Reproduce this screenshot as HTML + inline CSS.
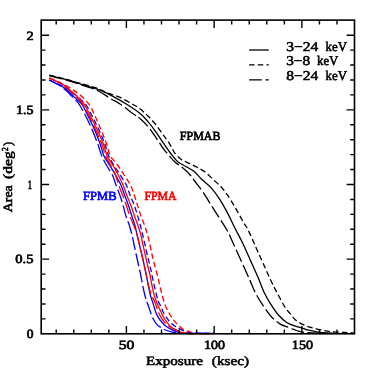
<!DOCTYPE html>
<html><head><meta charset="utf-8"><title>Area vs Exposure</title>
<style>html,body{margin:0;padding:0;background:#fff;}body{width:374px;height:374px;overflow:hidden;font-family:"Liberation Serif",serif;}svg{display:block;will-change:transform;}</style></head>
<body>
<svg width="374" height="374" viewBox="0 0 374 374">
<rect width="374" height="374" fill="#fff"/>
<g fill="none" stroke-width="1.30" stroke-linejoin="round">
<path d="M49.30 75.40 C52.15 76.12 61.77 78.45 66.40 79.70 C71.03 80.95 74.07 81.97 77.10 82.90 C80.13 83.83 82.33 84.60 84.60 85.30 C86.87 86.00 88.80 86.53 90.70 87.10 C92.60 87.67 94.22 88.10 96.00 88.70 C97.78 89.30 98.50 89.38 101.40 90.70 C104.30 92.02 109.18 94.33 113.40 96.60 C117.62 98.87 122.25 101.48 126.70 104.30 C131.15 107.12 136.55 110.60 140.10 113.50 C143.65 116.40 145.35 118.60 148.00 121.70 C150.65 124.80 153.32 128.37 156.00 132.10 C158.68 135.83 161.53 140.38 164.10 144.10 C166.67 147.82 169.12 151.47 171.40 154.40 C173.68 157.33 175.38 159.68 177.80 161.70 C180.22 163.72 183.22 164.90 185.90 166.50 C188.58 168.10 191.23 169.13 193.90 171.30 C196.57 173.47 199.05 176.78 201.90 179.50 C204.75 182.22 208.13 184.45 211.00 187.60 C213.87 190.75 216.42 194.32 219.10 198.40 C221.78 202.48 224.43 207.08 227.10 212.10 C229.77 217.12 232.53 223.38 235.10 228.50 C237.67 233.62 239.93 237.47 242.50 242.80 C245.07 248.13 247.83 254.55 250.50 260.50 C253.17 266.45 256.20 273.12 258.50 278.50 C260.80 283.88 262.27 288.53 264.30 292.80 C266.33 297.07 268.30 300.35 270.70 304.10 C273.10 307.85 276.03 312.23 278.70 315.30 C281.37 318.37 284.03 320.73 286.70 322.50 C289.37 324.27 292.02 324.93 294.70 325.90 C297.38 326.87 300.47 327.58 302.80 328.30 C305.13 329.02 306.15 329.57 308.70 330.20 C311.25 330.83 314.98 331.63 318.10 332.10 C321.22 332.57 323.75 332.77 327.40 333.00 C331.05 333.23 337.90 333.42 340.00 333.50" stroke="#000"/>
<path d="M49.30 75.10 C52.15 75.82 61.77 78.17 66.40 79.40 C71.03 80.63 72.17 81.08 77.10 82.50 C82.03 83.92 91.07 86.20 96.00 87.90 C100.93 89.60 102.70 91.12 106.70 92.70 C110.70 94.28 115.55 95.40 120.00 97.40 C124.45 99.40 130.07 102.80 133.40 104.70 C136.73 106.60 137.57 106.92 140.00 108.80 C142.43 110.68 145.33 113.32 148.00 116.00 C150.67 118.68 153.32 121.55 156.00 124.90 C158.68 128.25 162.07 133.32 164.10 136.10 C166.13 138.88 166.87 139.60 168.20 141.60 C169.53 143.60 171.03 146.23 172.10 148.10 C173.17 149.97 173.12 150.93 174.60 152.80 C176.08 154.67 178.58 157.55 181.00 159.30 C183.42 161.05 186.42 161.97 189.10 163.30 C191.78 164.63 194.43 165.83 197.10 167.30 C199.77 168.77 202.40 170.05 205.10 172.10 C207.80 174.15 210.67 177.15 213.30 179.60 C215.93 182.05 218.60 184.33 220.90 186.80 C223.20 189.27 224.73 190.98 227.10 194.40 C229.47 197.82 232.43 202.75 235.10 207.30 C237.77 211.85 240.93 217.92 243.10 221.70 C245.27 225.48 246.07 225.95 248.10 230.00 C250.13 234.05 252.77 240.38 255.30 246.00 C257.83 251.62 260.70 257.95 263.30 263.70 C265.90 269.45 268.60 275.65 270.90 280.50 C273.20 285.35 274.73 288.33 277.10 292.80 C279.47 297.27 282.95 303.87 285.10 307.30 C287.25 310.73 288.25 311.28 290.00 313.40 C291.75 315.52 293.42 318.13 295.60 320.00 C297.78 321.87 300.60 323.37 303.10 324.60 C305.60 325.83 308.10 326.62 310.60 327.40 C313.10 328.18 315.30 328.67 318.10 329.30 C320.90 329.93 324.28 330.73 327.40 331.20 C330.52 331.67 332.43 331.82 336.80 332.10 C341.17 332.38 350.80 332.77 353.60 332.90" stroke="#000" stroke-dasharray="5.7 3.1"/>
<path d="M49.30 75.70 C52.15 76.43 61.77 78.80 66.40 80.10 C71.03 81.40 72.17 81.88 77.10 83.50 C82.03 85.12 90.40 87.27 96.00 89.80 C101.60 92.33 106.70 96.33 110.70 98.70 C114.70 101.07 116.22 101.45 120.00 104.00 C123.78 106.55 130.07 111.60 133.40 114.00 C136.73 116.40 137.57 116.32 140.00 118.40 C142.43 120.48 145.33 123.28 148.00 126.50 C150.67 129.72 153.32 133.83 156.00 137.70 C158.68 141.57 162.07 146.92 164.10 149.70 C166.13 152.48 166.45 152.40 168.20 154.40 C169.95 156.40 172.47 159.68 174.60 161.70 C176.73 163.72 178.58 164.50 181.00 166.50 C183.42 168.50 186.77 171.20 189.10 173.70 C191.43 176.20 192.68 178.45 195.00 181.50 C197.32 184.55 200.33 188.10 203.00 192.00 C205.67 195.90 208.32 200.62 211.00 204.90 C213.68 209.18 216.40 213.43 219.10 217.70 C221.80 221.97 224.65 225.78 227.20 230.50 C229.75 235.22 231.85 240.47 234.40 246.00 C236.95 251.53 239.93 258.03 242.50 263.70 C245.07 269.37 247.52 274.88 249.80 280.00 C252.08 285.12 253.78 289.85 256.20 294.40 C258.62 298.95 261.62 303.42 264.30 307.30 C266.98 311.18 269.63 314.90 272.30 317.70 C274.97 320.50 277.63 322.50 280.30 324.10 C282.97 325.70 285.63 326.23 288.30 327.30 C290.97 328.37 293.88 329.70 296.30 330.50 C298.72 331.30 300.73 331.73 302.80 332.10 C304.87 332.47 305.83 332.48 308.70 332.70 C311.57 332.92 318.12 333.28 320.00 333.40" stroke="#000" stroke-dasharray="13 3.6"/>
<path d="M49.30 80.00 C51.08 80.88 57.15 83.72 60.00 85.30 C62.85 86.88 64.45 88.00 66.40 89.50 C68.35 91.00 70.27 92.92 71.70 94.30 C73.13 95.68 73.95 96.77 75.00 97.80 C76.05 98.83 76.77 99.30 78.00 100.50 C79.23 101.70 80.80 102.58 82.40 105.00 C84.00 107.42 85.93 111.67 87.60 115.00 C89.27 118.33 90.87 121.67 92.40 125.00 C93.93 128.33 95.45 131.67 96.80 135.00 C98.15 138.33 99.32 141.55 100.50 145.00 C101.68 148.45 102.40 152.37 103.90 155.70 C105.40 159.03 107.55 161.78 109.50 165.00 C111.45 168.22 113.70 171.67 115.60 175.00 C117.50 178.33 119.40 181.67 120.90 185.00 C122.40 188.33 123.37 191.67 124.60 195.00 C125.83 198.33 127.15 201.67 128.30 205.00 C129.45 208.33 130.42 211.67 131.50 215.00 C132.58 218.33 133.87 221.67 134.80 225.00 C135.73 228.33 136.32 231.67 137.10 235.00 C137.88 238.33 138.70 241.67 139.50 245.00 C140.30 248.33 141.12 251.67 141.90 255.00 C142.68 258.33 143.47 261.67 144.20 265.00 C144.93 268.33 145.63 271.67 146.30 275.00 C146.97 278.33 147.53 281.67 148.20 285.00 C148.87 288.33 149.62 292.33 150.30 295.00 C150.98 297.67 151.70 299.10 152.30 301.00 C152.90 302.90 153.28 304.43 153.90 306.40 C154.52 308.37 155.20 310.83 156.00 312.80 C156.80 314.77 157.62 316.50 158.70 318.20 C159.78 319.90 161.17 321.58 162.50 323.00 C163.83 324.42 165.10 325.55 166.70 326.70 C168.30 327.85 170.32 329.00 172.10 329.90 C173.88 330.80 175.42 331.57 177.40 332.10 C179.38 332.63 181.23 332.90 184.00 333.10 C186.77 333.30 189.00 333.25 194.00 333.30 C199.00 333.35 210.67 333.38 214.00 333.40" stroke="#0000ff"/>
<path d="M49.30 80.00 C51.30 80.88 58.17 83.72 61.30 85.30 C64.43 86.88 65.92 88.03 68.10 89.50 C70.28 90.97 72.72 92.85 74.40 94.10 C76.08 95.35 76.97 95.93 78.20 97.00 C79.43 98.07 80.47 99.17 81.80 100.50 C83.13 101.83 84.57 102.58 86.20 105.00 C87.83 107.42 89.87 111.67 91.60 115.00 C93.33 118.33 95.00 121.67 96.60 125.00 C98.20 128.33 99.77 131.67 101.20 135.00 C102.63 138.33 103.97 141.55 105.20 145.00 C106.43 148.45 107.18 152.37 108.60 155.70 C110.02 159.03 111.77 161.78 113.70 165.00 C115.63 168.22 118.10 171.67 120.20 175.00 C122.30 178.33 124.67 181.67 126.30 185.00 C127.93 188.33 128.68 191.67 130.00 195.00 C131.32 198.33 132.97 201.67 134.20 205.00 C135.43 208.33 136.38 211.67 137.40 215.00 C138.42 218.33 139.42 221.67 140.30 225.00 C141.18 228.33 141.90 231.67 142.70 235.00 C143.50 238.33 144.33 241.67 145.10 245.00 C145.87 248.33 146.52 251.67 147.30 255.00 C148.08 258.33 149.03 261.67 149.80 265.00 C150.57 268.33 151.18 271.67 151.90 275.00 C152.62 278.33 153.33 281.67 154.10 285.00 C154.87 288.33 155.77 292.17 156.50 295.00 C157.23 297.83 157.77 300.10 158.50 302.00 C159.23 303.90 160.15 304.77 160.90 306.40 C161.65 308.03 162.12 310.02 163.00 311.80 C163.88 313.58 165.05 315.42 166.20 317.10 C167.35 318.78 168.57 320.47 169.90 321.90 C171.23 323.33 172.77 324.63 174.20 325.70 C175.63 326.77 176.82 327.38 178.50 328.30 C180.18 329.22 182.63 330.53 184.30 331.20 C185.97 331.87 186.72 331.97 188.50 332.30 C190.28 332.63 190.75 333.02 195.00 333.20 C199.25 333.38 210.83 333.37 214.00 333.40" stroke="#0000ff" stroke-dasharray="5.7 3.1"/>
<path d="M49.30 80.20 C51.08 81.13 57.15 84.03 60.00 85.80 C62.85 87.57 64.45 89.10 66.40 90.80 C68.35 92.50 70.15 94.47 71.70 96.00 C73.25 97.53 74.38 98.50 75.70 100.00 C77.02 101.50 78.02 102.50 79.60 105.00 C81.18 107.50 83.47 111.67 85.20 115.00 C86.93 118.33 88.48 121.67 90.00 125.00 C91.52 128.33 92.95 131.67 94.30 135.00 C95.65 138.33 96.87 141.55 98.10 145.00 C99.33 148.45 100.33 152.37 101.70 155.70 C103.07 159.03 104.52 161.78 106.30 165.00 C108.08 168.22 110.78 171.67 112.40 175.00 C114.02 178.33 114.77 181.67 116.00 185.00 C117.23 188.33 118.63 191.67 119.80 195.00 C120.97 198.33 122.03 201.67 123.00 205.00 C123.97 208.33 124.57 211.67 125.60 215.00 C126.63 218.33 128.13 221.67 129.20 225.00 C130.27 228.33 131.18 231.67 132.00 235.00 C132.82 238.33 133.38 241.67 134.10 245.00 C134.82 248.33 135.57 251.67 136.30 255.00 C137.03 258.33 137.77 261.67 138.50 265.00 C139.23 268.33 140.02 271.67 140.70 275.00 C141.38 278.33 141.92 281.67 142.60 285.00 C143.28 288.33 144.10 292.17 144.80 295.00 C145.50 297.83 146.17 300.10 146.80 302.00 C147.43 303.90 147.95 304.60 148.60 306.40 C149.25 308.20 149.90 310.65 150.70 312.80 C151.50 314.95 152.33 317.33 153.40 319.30 C154.47 321.27 155.77 323.18 157.10 324.60 C158.43 326.02 159.80 326.82 161.40 327.80 C163.00 328.78 164.92 329.78 166.70 330.50 C168.48 331.22 170.32 331.70 172.10 332.10 C173.88 332.50 175.25 332.70 177.40 332.90 C179.55 333.10 178.90 333.22 185.00 333.30 C191.10 333.38 209.17 333.38 214.00 333.40" stroke="#0000ff" stroke-dasharray="13 3.6"/>
<path d="M49.30 78.00 C51.25 78.88 58.15 81.82 61.00 83.30 C63.85 84.78 64.62 85.53 66.40 86.90 C68.18 88.27 69.92 89.90 71.70 91.50 C73.48 93.10 75.55 95.00 77.10 96.50 C78.65 98.00 79.75 99.08 81.00 100.50 C82.25 101.92 83.10 102.58 84.60 105.00 C86.10 107.42 88.27 111.67 90.00 115.00 C91.73 118.33 93.40 121.67 95.00 125.00 C96.60 128.33 98.15 131.67 99.60 135.00 C101.05 138.33 102.45 141.55 103.70 145.00 C104.95 148.45 105.60 152.37 107.10 155.70 C108.60 159.03 110.83 161.78 112.70 165.00 C114.57 168.22 116.58 171.67 118.30 175.00 C120.02 178.33 121.60 181.67 123.00 185.00 C124.40 188.33 125.42 191.67 126.70 195.00 C127.98 198.33 129.45 201.67 130.70 205.00 C131.95 208.33 133.02 211.67 134.20 215.00 C135.38 218.33 136.68 221.67 137.80 225.00 C138.92 228.33 140.03 231.67 140.90 235.00 C141.77 238.33 142.27 241.67 143.00 245.00 C143.73 248.33 144.55 251.67 145.30 255.00 C146.05 258.33 146.72 261.67 147.50 265.00 C148.28 268.33 149.27 271.67 150.00 275.00 C150.73 278.33 151.22 281.67 151.90 285.00 C152.58 288.33 153.28 292.08 154.10 295.00 C154.92 297.92 156.12 300.67 156.80 302.50 C157.48 304.33 157.52 304.45 158.20 306.00 C158.88 307.55 160.02 309.95 160.90 311.80 C161.78 313.65 162.53 315.42 163.50 317.10 C164.47 318.78 165.53 320.33 166.70 321.90 C167.87 323.47 169.03 325.18 170.50 326.50 C171.97 327.82 173.92 328.92 175.50 329.80 C177.08 330.68 178.25 331.20 180.00 331.80 C181.75 332.40 183.33 333.11 186.00 333.40 C188.67 333.69 191.33 333.52 196.00 333.55 C200.67 333.58 211.00 333.59 214.00 333.60" stroke="#ff0000"/>
<path d="M49.30 78.00 C50.75 78.60 55.15 80.28 58.00 81.60 C60.85 82.92 63.75 84.43 66.40 85.90 C69.05 87.37 71.40 88.68 73.90 90.40 C76.40 92.12 78.80 93.77 81.40 96.20 C84.00 98.63 87.30 101.87 89.50 105.00 C91.70 108.13 93.02 111.67 94.60 115.00 C96.18 118.33 97.57 121.67 99.00 125.00 C100.43 128.33 101.87 131.67 103.20 135.00 C104.53 138.33 105.82 141.55 107.00 145.00 C108.18 148.45 108.55 152.37 110.30 155.70 C112.05 159.03 115.20 161.78 117.50 165.00 C119.80 168.22 121.95 171.67 124.10 175.00 C126.25 178.33 128.72 181.67 130.40 185.00 C132.08 188.33 133.03 191.67 134.20 195.00 C135.37 198.33 136.33 201.67 137.40 205.00 C138.47 208.33 139.43 211.67 140.60 215.00 C141.77 218.33 143.23 221.67 144.40 225.00 C145.57 228.33 146.67 231.67 147.60 235.00 C148.53 238.33 149.25 241.67 150.00 245.00 C150.75 248.33 151.33 251.67 152.10 255.00 C152.87 258.33 153.73 261.67 154.60 265.00 C155.47 268.33 156.45 271.67 157.30 275.00 C158.15 278.33 158.90 281.67 159.70 285.00 C160.50 288.33 161.17 291.58 162.10 295.00 C163.03 298.42 164.10 302.42 165.30 305.50 C166.50 308.58 167.97 311.12 169.30 313.50 C170.63 315.88 171.88 317.92 173.30 319.80 C174.72 321.68 176.22 323.25 177.80 324.80 C179.38 326.35 181.10 328.03 182.80 329.10 C184.50 330.17 186.22 330.58 188.00 331.20 C189.78 331.82 191.50 332.42 193.50 332.80 C195.50 333.18 196.58 333.37 200.00 333.50 C203.42 333.63 211.67 333.58 214.00 333.60" stroke="#ff0000" stroke-dasharray="5.7 3.1"/>
<path d="M49.30 78.20 C51.13 79.05 57.60 81.85 60.30 83.30 C63.00 84.75 63.77 85.53 65.50 86.90 C67.23 88.27 68.95 89.90 70.70 91.50 C72.45 93.10 74.48 95.00 76.00 96.50 C77.52 98.00 78.60 99.08 79.80 100.50 C81.00 101.92 81.73 102.58 83.20 105.00 C84.67 107.42 86.90 111.67 88.60 115.00 C90.30 118.33 91.85 121.67 93.40 125.00 C94.95 128.33 96.43 131.67 97.90 135.00 C99.37 138.33 100.93 141.55 102.20 145.00 C103.47 148.45 104.10 152.37 105.50 155.70 C106.90 159.03 108.95 161.78 110.60 165.00 C112.25 168.22 114.05 171.67 115.40 175.00 C116.75 178.33 117.52 181.67 118.70 185.00 C119.88 188.33 121.25 191.67 122.50 195.00 C123.75 198.33 125.05 201.67 126.20 205.00 C127.35 208.33 128.17 211.67 129.40 215.00 C130.63 218.33 132.32 221.67 133.60 225.00 C134.88 228.33 136.12 231.67 137.10 235.00 C138.08 238.33 138.70 241.67 139.50 245.00 C140.30 248.33 141.12 251.67 141.90 255.00 C142.68 258.33 143.47 261.67 144.20 265.00 C144.93 268.33 145.60 271.67 146.30 275.00 C147.00 278.33 147.57 281.67 148.40 285.00 C149.23 288.33 150.38 292.50 151.30 295.00 C152.22 297.50 153.12 298.28 153.90 300.00 C154.68 301.72 155.20 303.17 156.00 305.30 C156.80 307.43 157.80 310.65 158.70 312.80 C159.60 314.95 160.42 316.58 161.40 318.20 C162.38 319.82 163.35 321.17 164.60 322.50 C165.85 323.83 167.30 325.05 168.90 326.20 C170.50 327.35 172.42 328.52 174.20 329.40 C175.98 330.28 177.63 330.83 179.60 331.50 C181.57 332.17 183.27 333.06 186.00 333.40 C188.73 333.74 191.33 333.52 196.00 333.55 C200.67 333.58 211.00 333.59 214.00 333.60" stroke="#ff0000" stroke-dasharray="13 3.6"/>
</g>
<g fill="none" stroke="#000" stroke-width="1.6" stroke-linecap="square">
<rect x="41.20" y="20.10" width="313.30" height="313.70"/>
</g>
<path d="M56.20 333.80v-4.30M56.20 20.10v4.30M73.75 333.80v-4.30M73.75 20.10v4.30M91.30 333.80v-4.30M91.30 20.10v4.30M108.85 333.80v-4.30M108.85 20.10v4.30M126.40 333.80v-7.90M126.40 20.10v7.90M143.95 333.80v-4.30M143.95 20.10v4.30M161.50 333.80v-4.30M161.50 20.10v4.30M179.05 333.80v-4.30M179.05 20.10v4.30M196.60 333.80v-4.30M196.60 20.10v4.30M214.15 333.80v-7.90M214.15 20.10v7.90M231.70 333.80v-4.30M231.70 20.10v4.30M249.25 333.80v-4.30M249.25 20.10v4.30M266.80 333.80v-4.30M266.80 20.10v4.30M284.35 333.80v-4.30M284.35 20.10v4.30M301.90 333.80v-7.90M301.90 20.10v7.90M319.45 333.80v-4.30M319.45 20.10v4.30M337.00 333.80v-4.30M337.00 20.10v4.30M41.20 318.87h4.30M354.50 318.87h-4.30M41.20 303.94h4.30M354.50 303.94h-4.30M41.20 289.01h4.30M354.50 289.01h-4.30M41.20 274.08h4.30M354.50 274.08h-4.30M41.20 259.15h7.90M354.50 259.15h-7.90M41.20 244.22h4.30M354.50 244.22h-4.30M41.20 229.29h4.30M354.50 229.29h-4.30M41.20 214.36h4.30M354.50 214.36h-4.30M41.20 199.43h4.30M354.50 199.43h-4.30M41.20 184.50h7.90M354.50 184.50h-7.90M41.20 169.57h4.30M354.50 169.57h-4.30M41.20 154.64h4.30M354.50 154.64h-4.30M41.20 139.71h4.30M354.50 139.71h-4.30M41.20 124.78h4.30M354.50 124.78h-4.30M41.20 109.85h7.90M354.50 109.85h-7.90M41.20 94.92h4.30M354.50 94.92h-4.30M41.20 79.99h4.30M354.50 79.99h-4.30M41.20 65.06h4.30M354.50 65.06h-4.30M41.20 50.13h4.30M354.50 50.13h-4.30M41.20 35.20h7.90M354.50 35.20h-7.90" fill="none" stroke="#000" stroke-width="1.4"/>
<g fill="none" stroke="#000" stroke-width="1.3">
<path d="M249.1 50H268.8"/>
<path d="M249.1 64.9H268.8" stroke-dasharray="5.4 3.3"/>
<path d="M249.1 79.8H268.8" stroke-dasharray="12.7 3.6"/>
</g>
<g font-family="'Liberation Serif', serif" font-weight="normal" text-rendering="geometricPrecision" style="font-kerning:none">
<text transform="translate(286.16 50.60) scale(1.1600 1)" font-size="13.40" stroke="#000" stroke-width="0.55">3−24</text>
<text transform="translate(325.56 50.60) scale(0.9624 1)" font-size="13.40" stroke="#000" stroke-width="0.55">keV</text>
<text transform="translate(286.17 65.20) scale(1.1408 1)" font-size="13.40" stroke="#000" stroke-width="0.55">3−8</text>
<text transform="translate(316.96 65.20) scale(0.9624 1)" font-size="13.40" stroke="#000" stroke-width="0.55">keV</text>
<text transform="translate(286.31 80.20) scale(1.1543 1)" font-size="13.40" stroke="#000" stroke-width="0.55">8−24</text>
<text transform="translate(325.56 80.20) scale(0.9624 1)" font-size="13.40" stroke="#000" stroke-width="0.55">keV</text>
<text transform="translate(179.84 139.90) scale(0.9494 1)" font-size="12.60" stroke="#000" stroke-width="0.70">FPMAB</text>
<text transform="translate(83.12 199.50) scale(0.9934 1)" font-size="12.60" fill="#0000ff" stroke="#0000ff" stroke-width="0.70">FPMB</text>
<text transform="translate(144.45 199.50) scale(0.9311 1)" font-size="12.60" fill="#ff0000" stroke="#ff0000" stroke-width="0.70">FPMA</text>
<text transform="translate(145.97 365.25) scale(1.1895 1)" font-size="12.70" stroke="#000" stroke-width="0.55">Exposure</text>
<text transform="translate(211.83 365.25) scale(1.2002 1)" font-size="12.70" stroke="#000" stroke-width="0.55">(ksec)</text>
<text transform="translate(118.68 348.80) scale(1.2408 1)" font-size="12.60" stroke="#000" stroke-width="0.70">50</text>
<text transform="translate(203.96 348.80) scale(1.1050 1)" font-size="12.60" stroke="#000" stroke-width="0.70">100</text>
<text transform="translate(291.85 348.80) scale(1.1165 1)" font-size="12.60" stroke="#000" stroke-width="0.70">150</text>
<text transform="translate(26.56 39.50) scale(1.1344 1)" font-size="12.60" stroke="#000" stroke-width="0.70">2</text>
<text transform="translate(15.95 114.15) scale(1.1116 1)" font-size="12.60" stroke="#000" stroke-width="0.70">1.5</text>
<text transform="translate(27.83 188.80) scale(0.6831 1)" font-size="12.60" stroke="#000" stroke-width="0.70">1</text>
<text transform="translate(15.33 263.45) scale(1.1524 1)" font-size="12.60" stroke="#000" stroke-width="0.70">0.5</text>
<text transform="translate(26.67 338.10) scale(1.0730 1)" font-size="12.60" stroke="#000" stroke-width="0.70">0</text>
<text transform="translate(11.8 0) rotate(-90) translate(-212.13 0.00) scale(1.0869 1)" font-size="12.70" stroke="#000" stroke-width="0.55">Area</text>
<text transform="translate(11.8 0) rotate(-90) translate(-178.88 0.00) scale(1.2264 1)" font-size="12.70" stroke="#000" stroke-width="0.55">(deg</text>
<text transform="translate(11.8 0) rotate(-90) translate(-150.89 -4.20) scale(0.7972 1)" font-size="9.20" stroke="#000" stroke-width="0.60">2</text>
<text transform="translate(11.8 0) rotate(-90) translate(-146.10 0.00) scale(0.9795 1)" font-size="12.70" stroke="#000" stroke-width="0.55">)</text>
</g>
</svg>
</body></html>
